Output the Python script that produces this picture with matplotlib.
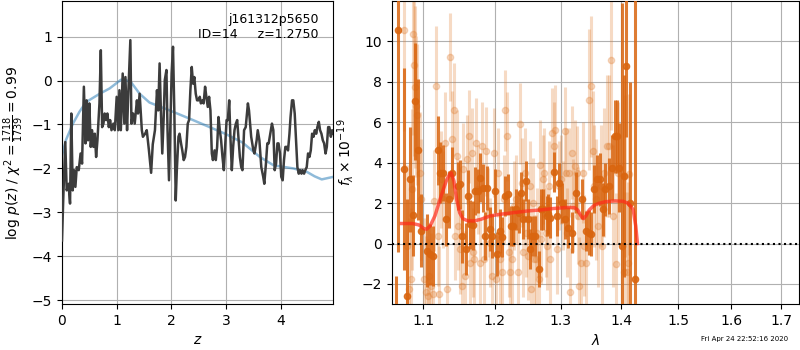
import matplotlib
matplotlib.use('Agg')
import matplotlib.pyplot as plt
from matplotlib.ticker import ScalarFormatter, NullLocator, NullFormatter

# ---- left panel: redshift probability ----
z_grid = [0.0, 0.024, 0.06, 0.086, 0.12, 0.147, 0.17, 0.196, 0.22, 0.245, 0.27, 0.306, 0.34, 0.367,
          0.40, 0.43, 0.45, 0.477, 0.50, 0.526, 0.55, 0.575, 0.60, 0.624, 0.648, 0.685, 0.71, 0.734,
          0.758, 0.78, 0.807, 0.83, 0.856, 0.88, 0.905, 0.94, 0.966, 1.0, 1.03, 1.05, 1.076, 1.11,
          1.14, 1.16, 1.19, 1.21, 1.25, 1.27, 1.30, 1.33, 1.37, 1.39, 1.42, 1.46, 1.48, 1.52, 1.55,
          1.59, 1.63, 1.66, 1.70, 1.737, 1.76, 1.785, 1.81, 1.834, 1.86, 1.88, 1.91, 1.93, 1.957,
          1.98, 2.005, 2.03, 2.055, 2.08, 2.10, 2.13, 2.15, 2.177, 2.20, 2.226, 2.25, 2.275, 2.30,
          2.324, 2.348, 2.373, 2.397, 2.42, 2.446, 2.47, 2.495, 2.52, 2.54, 2.57, 2.59, 2.617, 2.64,
          2.666, 2.69, 2.715, 2.74, 2.76, 2.79, 2.813, 2.837, 2.862, 2.886, 2.91, 2.935, 2.96, 2.984,
          3.01, 3.033, 3.058, 3.08, 3.106, 3.13, 3.155, 3.18, 3.204, 3.23, 3.253, 3.278, 3.30, 3.33,
          3.36, 3.40, 3.42, 3.46, 3.50, 3.52, 3.56, 3.58, 3.61, 3.645, 3.68, 3.70, 3.73, 3.755, 3.78,
          3.80, 3.84, 3.865, 3.89, 3.915, 3.94, 3.96, 3.987, 4.01, 4.036, 4.06, 4.085, 4.11, 4.134,
          4.16, 4.18, 4.207, 4.23, 4.256, 4.28, 4.305, 4.33, 4.354, 4.38, 4.40, 4.427, 4.45, 4.476,
          4.50, 4.525, 4.55, 4.574, 4.60, 4.623, 4.65, 4.67, 4.697, 4.72, 4.745, 4.77, 4.794, 4.82,
          4.843, 4.868, 4.89, 4.917, 4.94, 4.966]
log_pz = [-3.64, -2.65, -1.40, -2.50, -2.35, -2.80, -0.75, -2.50, -2.04, -2.42, -1.97, -2.04, -1.66, -1.89,
          -0.14, -1.43, -0.45, -1.36, -0.52, -1.51, -1.13, -1.51, -1.21, -1.74, -1.36, -0.52, 0.69, -1.06,
          -0.98, -0.75, -0.90, -0.75, -1.06, -0.90, -1.13, -0.98, -1.13, -0.37, -1.13, -0.22, -1.13, 0.16,
          -0.98, 0.08, -1.13, -0.37, 0.92, -0.98, -0.75, -0.98, -0.45, -0.75, -0.30, -1.13, -1.28, -1.21, -1.13,
          -1.59, -2.10, -1.45, -1.13, -0.22, -0.68, 0.39, -0.75, -1.66, -0.83, 0.01, 0.24, -1.13, -2.27,
          -1.13, 0.16, 0.77, -0.75, -2.73, -2.04, -1.28, -1.21, -1.43, -1.59, -1.81, -1.74, -1.51, -0.98,
          -0.90, -0.22, 0.31, -0.07, 0.08, -0.30, -0.45, -0.45, -0.37, -0.52, -0.45, -0.52, -0.14, -0.37,
          -0.60, -0.37, -0.68, -1.66, -1.81, -1.59, -1.81, -1.51, -0.83, -1.13, -1.36, -1.74, -2.04, -1.51,
          -0.90, -0.90, -0.45, -1.28, -2.04, -1.51, -1.13, -0.98, -0.90, -1.36, -1.74, -1.97, -2.04, -1.13,
          -1.06, -0.52, -0.68, -1.28, -1.59, -1.66, -1.36, -1.13, -1.36, -1.97, -2.19, -2.35, -1.89, -1.43, -1.43,
          -1.28, -0.98, -1.13, -2.04, -1.89, -1.43, -1.43, -1.66, -2.19, -2.27, -1.81, -1.51, -1.51, -1.59,
          -1.21, -0.83, -0.45, -0.45, -0.75, -1.36, -1.97, -2.12, -2.04, -2.12, -2.04, -2.12, -2.04, -1.97,
          -1.66, -1.74, -1.59, -1.21, -1.28, -1.13, -1.21, -1.06, -0.94, -1.13, -1.21, -1.36, -1.43, -1.66,
          -1.51, -1.06, -1.06, -1.28, -1.13, -1.21]

z_prior = [0, 0.07, 0.2, 0.32, 0.44, 0.69, 0.87, 1.08, 1.17, 1.27, 1.42, 1.60, 1.97, 2.34, 2.70,
           3.0, 3.30, 3.62, 3.87, 4.23, 4.48, 4.62, 4.75, 4.97]
log_prior = [-1.70, -1.36, -0.98, -0.71, -0.49, -0.30, -0.18, 0.02, 0.01, -0.05, -0.30, -0.50, -0.68,
             -0.87, -1.06, -1.22, -1.41, -1.74, -1.93, -2.00, -2.08, -2.18, -2.25, -2.19]

# ---- right panel: spectrum ----
dark_lam = [1.0640, 1.0667, 1.0748, 1.0783, 1.0826, 1.0870, 1.0887, 1.0929, 1.0964, 1.1056,
            1.1093, 1.1130, 1.1195, 1.1233, 1.1274, 1.1312, 1.1344, 1.1395, 1.1474, 1.1507,
            1.1535, 1.1581, 1.1609, 1.1647, 1.1693, 1.1721, 1.1758, 1.1786, 1.1823, 1.1860,
            1.1888, 1.1935, 1.1963, 1.2000, 1.2040, 1.2070, 1.2100, 1.2154, 1.2194, 1.2234,
            1.2274, 1.2313, 1.2363, 1.2383, 1.2423, 1.2463, 1.2493, 1.2522, 1.2562, 1.2602,
            1.2662, 1.2692, 1.2731, 1.2781, 1.2811, 1.2841, 1.2891, 1.2940, 1.2970, 1.3022,
            1.3065, 1.3124, 1.3177, 1.3242, 1.3339, 1.3414, 1.3452, 1.3490, 1.3543, 1.3597,
            1.3634, 1.3683, 1.3730, 1.3785, 1.3844, 1.3887, 1.3920, 1.3952, 1.4006, 1.4040,
            1.4086, 1.4155, 1.4229]
dark_flux = [-4.6, 10.58, 3.67, -2.58, 3.17, 1.40, 7.04, 4.65, 0.63, -0.36,
             -0.53, -0.61, 4.62, 3.50, 3.50, 1.20, 2.19, 3.50, 2.85, 2.93,
             0.35, -0.28, 2.35, 0.95, 0.90, 2.60, 2.60, 3.26, 2.76, 0.38,
             2.76, 0.71, 0.38, 2.60, -0.53, 0.63, 0.33, 2.35, 2.43, 0.87,
             0.87, 1.69, 1.53, 2.52, 1.20, 3.09, 1.20, -0.28, 0.38, 0.38,
             -1.27, 1.69, 1.69, 1.37, 1.45, 1.28, 3.54, 1.37, 3.01, 2.02,
             1.20, 0.79, 0.54, 2.52, 2.19, 0.63, 0.54, 0.46, 2.71, 3.17,
             3.17, 1.69, 2.68, 2.85, 3.75, 5.31, 5.31, 3.75, -0.12, 3.34,
             8.77, 1.99, -1.76]
dark_err = [3.0, 11.0, 5.0, 4.8, 2.6, 2.0, 2.9, 3.5, 1.8, 1.8,
            1.5, 1.5, 1.7, 1.5, 1.4, 1.3, 1.4, 1.3, 1.2, 1.2,
            1.3, 1.3, 1.3, 1.2, 1.2, 1.2, 1.1, 1.2, 1.2, 1.2,
            1.1, 1.1, 1.1, 1.1, 1.1, 1.1, 1.0, 1.0, 1.0, 1.0,
            1.0, 1.0, 1.0, 1.0, 1.0, 1.0, 1.0, 1.0, 1.0, 1.0,
            0.9, 1.0, 1.0, 1.0, 1.0, 1.0, 1.0, 1.0, 1.0, 1.0,
            1.0, 1.0, 1.0, 1.0, 1.0, 1.0, 1.1, 1.1, 1.2, 1.2,
            1.3, 1.3, 1.3, 1.4, 1.6, 1.8, 1.8, 2.2, 12.0, 5.0,
            3.5, 6.0, 15.0]

light_lam = [1.0748, 1.0791, 1.0813, 1.0835, 1.0848, 1.0870, 1.0878, 1.0887, 1.0904, 1.0922,
             1.0957, 1.0974, 1.1009, 1.1037, 1.1065, 1.1084, 1.1102, 1.1130, 1.1149, 1.1172,
             1.1195, 1.1214, 1.1242, 1.1270, 1.1298, 1.1326, 1.1367, 1.1391, 1.1419, 1.1437,
             1.1456, 1.1474, 1.1502, 1.1530, 1.1549, 1.1577, 1.1595, 1.1623, 1.1642, 1.1670,
             1.1688, 1.1707, 1.1735, 1.1763, 1.1791, 1.1819, 1.1847, 1.1879, 1.1902, 1.1930,
             1.1963, 1.1991, 1.2015, 1.2045, 1.2075, 1.2104, 1.2134, 1.2154, 1.2174, 1.2204,
             1.2224, 1.2254, 1.2284, 1.2313, 1.2343, 1.2368, 1.2403, 1.2423, 1.2443, 1.2463,
             1.2493, 1.2522, 1.2542, 1.2572, 1.2592, 1.2612, 1.2632, 1.2662, 1.2682, 1.2701,
             1.2721, 1.2741, 1.2771, 1.2791, 1.2821, 1.2841, 1.2871, 1.2891, 1.2920, 1.2950,
             1.2980, 1.3011, 1.3043, 1.3065, 1.3086, 1.3108, 1.3129, 1.3151, 1.3183, 1.3204,
             1.3226, 1.3258, 1.3280, 1.3301, 1.3323, 1.3355, 1.3382, 1.3409, 1.3462, 1.3495,
             1.3527, 1.3548, 1.3570, 1.3602, 1.3656, 1.3677, 1.3710, 1.3763, 1.3796, 1.3823,
             1.3849, 1.3903, 1.3935, 1.4046, 1.4069, 1.4091, 1.4114, 1.4137]
light_flux = [10.58, -0.12, -2.25, -1.76, 2.68, 10.36, 8.85, 7.75, 6.79, 6.38,
              3.50, 2.19, -1.76, -2.42, -2.58, -1.60, -2.09, -2.50, 2.11, 7.78,
              0.38, -2.50, 3.17, 2.19, 4.98, -2.25, 9.23, 5.15, 6.63, 0.38,
              4.33, 0.87, -0.28, -2.09, 3.67, -1.60, 4.16, 5.31, -0.94, 4.49,
              -0.44, -0.77, 4.98, 2.68, -0.94, 4.82, -0.77, 4.57, 1.53, 0.05,
              -1.60, 4.49, -1.76, 3.50, -0.77, -1.43, 2.19, 6.60, 5.31, -0.44,
              -1.43, -0.77, 1.86, 2.19, -1.43, 5.92, 3.01, -0.44, 3.50, 0.54,
              -0.61, 2.85, -2.25, 2.02, -0.77, -0.77, 0.54, -1.76, 3.91, 0.21,
              3.17, 3.50, 0.54, -0.12, 2.85, -0.77, 5.48, 4.82, 5.64, -0.28,
              2.85, 3.17, 1.86, 5.56, 3.50, 0.54, 3.50, -2.42, 4.49, 1.86,
              3.83, 3.50, 1.37, -2.09, -0.94, 3.50, -0.12, -0.94, 7.12, 7.78,
              4.57, 2.85, 2.19, 0.87, 2.85, -0.12, 3.50, 4.82, 4.82, 9.10,
              1.37, -1.02, 3.50, -1.43, 3.34, -1.43, -0.94, 3.42]
light_err = [5.0, 4.0, 3.5, 3.5, 4.0, 5.0, 4.5, 4.0, 3.5, 3.5,
             3.0, 3.0, 3.0, 2.8, 2.8, 2.6, 2.6, 2.5, 2.5, 3.0,
             2.5, 2.4, 2.4, 2.4, 2.5, 2.3, 2.2, 2.4, 2.3, 2.2,
             2.3, 2.2, 2.2, 2.2, 2.3, 2.2, 2.2, 2.3, 2.2, 2.2,
             2.2, 2.2, 2.2, 2.2, 2.2, 2.2, 2.2, 2.2, 2.2, 2.2,
             2.2, 2.2, 2.2, 2.2, 2.2, 2.2, 2.2, 2.0, 2.2, 2.2,
             2.2, 2.2, 2.2, 2.2, 2.2, 2.0, 2.2, 2.2, 2.2, 2.2,
             2.2, 2.2, 2.2, 2.2, 2.2, 2.2, 2.2, 2.2, 2.2, 2.2,
             2.2, 2.2, 2.2, 2.2, 2.2, 2.2, 2.2, 2.2, 2.2, 2.2,
             2.2, 2.2, 2.2, 2.2, 2.2, 2.2, 2.2, 2.2, 2.3, 2.3,
             2.3, 2.3, 2.4, 2.4, 2.4, 2.5, 2.5, 2.6, 3.5, 3.5,
             3.0, 3.0, 3.0, 3.0, 3.0, 3.0, 3.2, 3.5, 3.5, 3.5,
             3.5, 3.5, 3.5, 4.0, 4.0, 4.0, 4.0, 4.0]

model_lam = [1.0713, 1.0857, 1.0943, 1.1009, 1.1047, 1.1093, 1.1158, 1.1242, 1.1312, 1.1358,
             1.1381, 1.1419, 1.1456, 1.1498, 1.1544, 1.1614, 1.1707, 1.1800, 1.1940, 1.2085,
             1.2284, 1.2483, 1.2682, 1.2881, 1.3086, 1.3220, 1.3274, 1.3328, 1.3366, 1.3409,
             1.3462, 1.3543, 1.3624, 1.3731, 1.3892, 1.4029, 1.4114, 1.4200, 1.4246, 1.4275]
model_flux = [0.99, 0.99, 0.92, 0.74, 0.71, 0.87, 1.37, 2.35, 3.09, 3.42,
              3.50, 3.09, 2.19, 1.53, 1.23, 1.12, 1.12, 1.20, 1.37, 1.45,
              1.53, 1.61, 1.66, 1.73, 1.78, 1.78, 1.66, 1.37, 1.23, 1.37,
              1.66, 1.89, 1.99, 2.07, 2.11, 2.09, 1.99, 1.69, 0.87, 0.0]

lam_ticks = [1.1, 1.2, 1.3, 1.4, 1.5, 1.6, 1.7]

fig = plt.figure(figsize=(8, 3.5), dpi=100)
ax1 = fig.add_axes([0.0775, 0.131, 0.339, 0.866])
ax2 = fig.add_axes([0.490, 0.131, 0.509, 0.866])

ax1.plot(z_prior, log_prior, color='#1f77b4', alpha=0.5, lw=1.8, zorder=2)
ax1.plot(z_grid, log_pz, color='#3c3c3c', lw=1.8, zorder=3)
ax1.set_xlim(0, 4.96)
ax1.set_ylim(-5.09, 1.81)
ax1.set_xticks([0, 1, 2, 3, 4])
ax1.set_yticks([-5, -4, -3, -2, -1, 0, 1])
ax1.grid(True)
ax1.set_xlabel('$z$')
ax1.set_ylabel(r'log $p(z)$ / $\chi^2=\frac{1718}{1739}=0.99$')
ax1.text(0.945, 0.96, 'j161312p5650\nID=14     z=1.2750', transform=ax1.transAxes,
         ha='right', va='top', fontsize=9)

ax2.errorbar(light_lam, light_flux, yerr=light_err, fmt='o', color='#e07b2c', alpha=0.28,
             ms=4.5, elinewidth=2.2, capsize=0, zorder=2)
ax2.errorbar(dark_lam, dark_flux, yerr=dark_err, fmt='o', color='#d9650f', alpha=0.85,
             ms=4.5, elinewidth=2.2, capsize=0, zorder=3)
ax2.plot(model_lam, model_flux, color='#ff2a1a', alpha=0.7, lw=2.5, zorder=4)
ax2.axhline(0, color='k', ls=':', lw=1.5, zorder=5)
ax2.set_xscale('log')
ax2.set_xlim(1.059, 1.738)
ax2.set_ylim(-3, 12)
ax2.set_xticks(lam_ticks)
ax2.xaxis.set_major_formatter(ScalarFormatter())
ax2.xaxis.set_minor_locator(NullLocator())
ax2.xaxis.set_minor_formatter(NullFormatter())
ax2.set_yticks([-2, 0, 2, 4, 6, 8, 10])
ax2.grid(True)
ax2.set_xlabel(r'$\lambda$')
ax2.set_ylabel(r'$f_\lambda \times 10^{-19}$')

fig.text(0.985, 0.03, 'Fri Apr 24 22:52:16 2020', ha='right', va='center', fontsize=5)

fig.savefig('out.png', dpi=100)
